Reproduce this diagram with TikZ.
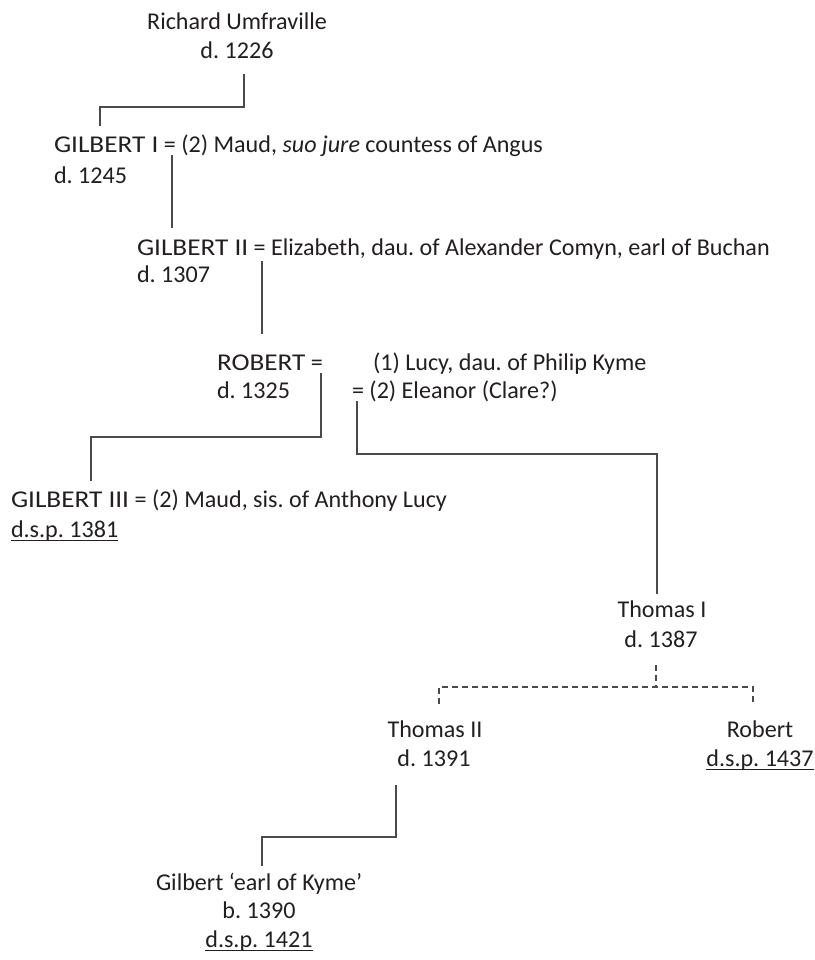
\documentclass[tikz,border=0pt]{standalone}
\usepackage{graphicx}
\usepackage{fontspec}
\setmainfont{Carlito}
\frenchspacing
\definecolor{textc}{HTML}{231F20}
\definecolor{linec}{HTML}{4A4A4A}
\newcommand\capsx[1]{\scalebox{1.13}[1]{#1}}
\begin{document}
\begin{tikzpicture}[x=1pt,y=-1pt,
  txt/.style={inner sep=0pt, outer sep=0pt, font=\fontsize{24.1}{29}\selectfont\frenchspacing, text=textc},
  lft/.style={txt, anchor=base west},
  ctr/.style={txt, anchor=base},
  link/.style={draw=linec, line width=1.1pt},
  dlink/.style={link, dash pattern=on 6pt off 4pt},
  uline/.style={draw=textc, line width=1pt}]
\fill[white] (0,0) rectangle (814,960);
\useasboundingbox (0,0) rectangle (814,960);

% people
\node[ctr] (rich)  at (237,30) {Richard Umfraville};
\node[ctr] (richd) at (237,59) {d. 1226};
\node[lft] (g1)  at (54,153) {\capsx{GILBERT I} = (2) Maud, \textit{suo jure} countess of Angus};
\node[lft] (g1d) at (54,183) {d. 1245};
\node[lft] (g2)  at (137,255) {\capsx{GILBERT II} = Elizabeth, dau. of Alexander Comyn, earl of Buchan};
\node[lft] (g2d) at (137,282) {d. 1307};
\node[lft] (rob)  at (217,370) {\capsx{ROBERT} =};
\node[lft] (lucy) at (373,370) {(1) Lucy, dau. of Philip Kyme};
\node[lft] (robd) at (217,398) {d. 1325};
\node[lft] (elea) at (352,398) {= (2) Eleanor (Clare?)};
\node[lft] (g3)  at (11,507) {\capsx{GILBERT III} = (2) Maud, sis. of Anthony Lucy};
\node[lft] (g3d) at (11,537) {d.s.p. 1381};
\node[ctr] (t1)  at (662,617) {Thomas I};
\node[ctr] (t1d) at (661,647) {d. 1387};
\node[ctr] (t2)  at (435,737) {Thomas II};
\node[ctr] (t2d) at (434,766) {d. 1391};
\node[ctr] (rb)  at (760,737) {Robert};
\node[ctr] (rbd) at (760,766) {d.s.p. 1437};
\node[ctr] (gk)  at (259,890) {Gilbert ‘earl of Kyme’};
\node[ctr] (gkb) at (259,918) {b. 1390};
\node[ctr] (gkd) at (259,947) {d.s.p. 1421};

% underlines
\foreach \n in {g3d,rbd,gkd}
  \draw[uline] ([yshift=-3.5pt]\n.base west) -- ([yshift=-3.5pt]\n.base east);

% connector end points
\coordinate (cA1) at (244,74);   \coordinate (cA2) at (100,126);
\coordinate (cB1) at (172,155);  \coordinate (cB2) at (172,228);
\coordinate (cC1) at (262,261);  \coordinate (cC2) at (262,334);
\coordinate (cD1) at (321,373);  \coordinate (cD2) at (91,481);
\coordinate (cE1) at (357,401);  \coordinate (cE2) at (657,594);
\coordinate (cF0) at (656,665);  \coordinate (cF1) at (439,704);  \coordinate (cF2) at (753,704);
\coordinate (cG1) at (396,785);  \coordinate (cG2) at (262,866);

% connectors
\draw[link] (cA1) -- (244,107) -| (cA2);
\draw[link] (cB1) -- (cB2);
\draw[link] (cC1) -- (cC2);
\draw[link] (cD1) -- (321,437) -| (cD2);
\draw[link] (cE1) -- (357,454) -| (cE2);
\draw[dlink] (cF0) -- (656,687);
\draw[dlink] (cF1) -- (439,687) -- (753,687) -- (cF2);
\draw[link] (cG1) -- (396,837) -| (cG2);
\end{tikzpicture}
\end{document}
